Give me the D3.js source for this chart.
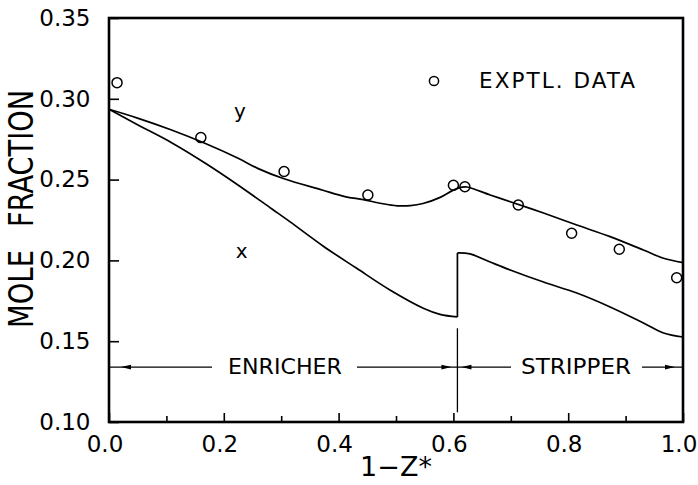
<!DOCTYPE html>
<html><head><meta charset="utf-8">
<script src="https://cdn.jsdelivr.net/npm/d3@7"></script>
<style>
html,body{margin:0;padding:0;background:#fff;}
svg{display:block;font-family:"DejaVu Sans",sans-serif;}
</style></head>
<body><svg id="c" width="698" height="485"></svg>
<script>
// ---- data ----
const xTicksMajor = [0.0, 0.2, 0.4, 0.6, 0.8, 1.0];
const xTicksMinor = [0.1, 0.3, 0.5, 0.7, 0.9];
const yTicks = [0.10, 0.15, 0.20, 0.25, 0.30, 0.35];

// vapour composition y (calculated)
const yCurveX = [0.0, 0.051, 0.109, 0.167, 0.225, 0.26, 0.305, 0.371, 0.411, 0.443, 0.475, 0.502, 0.525, 0.547, 0.577, 0.600, 0.615, 0.624, 0.664, 0.699, 0.757, 0.815, 0.873, 0.931, 0.966, 1.0];
const yCurveY = [0.2935, 0.2879, 0.2807, 0.2725, 0.2632, 0.2568, 0.2505, 0.2436, 0.2395, 0.2376, 0.2352, 0.2338, 0.2339, 0.2352, 0.2390, 0.2435, 0.2453, 0.2454, 0.2405, 0.2363, 0.2293, 0.2219, 0.2147, 0.2064, 0.2013, 0.1986];

// liquid composition x (calculated), enricher section
const xEnrX = [0.0, 0.0505, 0.1098, 0.1672, 0.2247, 0.284, 0.315, 0.3734, 0.4315, 0.4895, 0.5476, 0.5767, 0.607];
const xEnrY = [0.2935, 0.2838, 0.2727, 0.2603, 0.2467, 0.2318, 0.2240, 0.2088, 0.1951, 0.1817, 0.1704, 0.1666, 0.1650];
// liquid composition x, stripper section
const xStrX = [0.607, 0.629, 0.664, 0.699, 0.757, 0.815, 0.873, 0.931, 0.966, 1.0];
const xStrY = [0.2046, 0.2040, 0.1990, 0.1941, 0.1866, 0.1798, 0.1712, 0.1613, 0.1551, 0.1526];

// experimental data
const expX = [0.014, 0.160, 0.305, 0.451, 0.600, 0.620, 0.713, 0.806, 0.889, 0.989];
const expY = [0.310, 0.276, 0.255, 0.2405, 0.2465, 0.2456, 0.2343, 0.2168, 0.2069, 0.1893];

const feedX = 0.607;        // enricher / stripper boundary
const sectionY = 0.134;     // level of section arrows
const sections = ["ENRICHER", "STRIPPER"];

// ---- drawing ----
const svg = d3.select("#c");
const L = 109, R = 683, T = 18, B = 422;
const x = d3.scaleLinear().domain([0, 1]).range([L, R]);
const y = d3.scaleLinear().domain([0.10, 0.35]).range([B, T]);

// minor x ticks
svg.append("g").attr("transform", `translate(0,${B})`)
  .call(d3.axisBottom(x).tickValues(xTicksMinor).tickSizeInner(-6).tickSizeOuter(0).tickFormat(""))
  .call(g => g.select(".domain").remove())
  .call(g => g.selectAll("line").attr("stroke", "#000").attr("stroke-width", 1.6));

// major x ticks with labels
svg.append("g").attr("transform", `translate(0,${B})`)
  .call(d3.axisBottom(x).tickValues(xTicksMajor).tickSizeInner(-9).tickSizeOuter(0).tickPadding(13.7).tickFormat(d3.format(".1f")))
  .call(g => g.select(".domain").remove())
  .call(g => g.selectAll("line").attr("stroke", "#000").attr("stroke-width", 1.6))
  .call(g => g.selectAll("text").attr("font-size", 23).attr("font-family", "DejaVu Sans").attr("fill", "#000").attr("dx", -4.5));

// y ticks with labels
svg.append("g").attr("transform", `translate(${L},0)`)
  .call(d3.axisLeft(y).tickValues(yTicks).tickSizeInner(-10).tickSizeOuter(0).tickPadding(18.5).tickFormat(d3.format(".2f")))
  .call(g => g.select(".domain").remove())
  .call(g => g.selectAll("line").attr("stroke", "#000").attr("stroke-width", 1.6))
  .call(g => g.selectAll("text").attr("font-size", 23).attr("font-family", "DejaVu Sans").attr("fill", "#000"));

// frame
svg.append("rect").attr("x", L).attr("y", T).attr("width", R - L).attr("height", B - T)
  .attr("fill", "none").attr("stroke", "#000").attr("stroke-width", 2.6);

// axis titles
svg.append("text").attr("x", (L + R) / 2).attr("y", 476).attr("text-anchor", "middle")
  .attr("font-size", 27).text("1\u2212Z*");
svg.append("text").attr("transform", "translate(33,289) rotate(-90)").attr("text-anchor", "middle")
  .attr("font-size", 33).attr("textLength", 78).attr("lengthAdjust", "spacingAndGlyphs").text("MOLE");
svg.append("text").attr("transform", "translate(33,158.5) rotate(-90)").attr("text-anchor", "middle")
  .attr("font-size", 33).attr("textLength", 137).attr("lengthAdjust", "spacingAndGlyphs").text("FRACTION");

// curves
const line = d3.line().x(d => x(d[0])).y(d => y(d[1])).curve(d3.curveCatmullRom.alpha(0.5));
const zip = (a, b) => a.map((v, i) => [v, b[i]]);
const curveStyle = p => p.attr("fill", "none").attr("stroke", "#000").attr("stroke-width", 1.7).attr("stroke-linejoin", "round");

svg.append("path").attr("d", line(zip(yCurveX, yCurveY))).call(curveStyle);
svg.append("path").attr("d", line(zip(xEnrX, xEnrY))).call(curveStyle);
svg.append("path").attr("d", line(zip(xStrX, xStrY))).call(curveStyle);
// vertical jump of x at the feed point
svg.append("line").attr("x1", x(feedX)).attr("x2", x(feedX))
  .attr("y1", y(xEnrY[xEnrY.length - 1])).attr("y2", y(xStrY[0]))
  .attr("stroke", "#000").attr("stroke-width", 1.7);

// experimental points
svg.append("g").selectAll("circle").data(zip(expX, expY)).join("circle")
  .attr("cx", d => x(d[0])).attr("cy", d => y(d[1])).attr("r", 5)
  .attr("fill", "none").attr("stroke", "#000").attr("stroke-width", 1.5);

// curve labels
svg.append("text").attr("x", x(0.228)).attr("y", 118).attr("text-anchor", "middle").attr("font-size", 20).text("y");
svg.append("text").attr("x", x(0.231)).attr("y", 258).attr("text-anchor", "middle").attr("font-size", 20).text("x");

// legend
svg.append("circle").attr("cx", 434).attr("cy", 81).attr("r", 4.6)
  .attr("fill", "none").attr("stroke", "#000").attr("stroke-width", 1.5);
svg.append("text").attr("x", 479).attr("y", 87.5).attr("font-size", 21.5)
  .attr("textLength", 156).attr("lengthAdjust", "spacing").text("EXPTL.  DATA");

// section annotation
const sy = y(sectionY);
svg.append("line").attr("x1", x(feedX)).attr("x2", x(feedX)).attr("y1", y(0.158)).attr("y2", y(0.106))
  .attr("stroke", "#000").attr("stroke-width", 1.3);
const hseg = (a, b) => svg.append("line").attr("x1", a).attr("x2", b).attr("y1", sy).attr("y2", sy)
  .attr("stroke", "#000").attr("stroke-width", 1.3);
const arrow = (tip, dir) => svg.append("path")
  .attr("d", `M${tip},${sy} L${tip - dir * 10},${sy - 2.4} L${tip - dir * 10},${sy + 2.4} Z`).attr("fill", "#000");

hseg(L, 212); arrow(L + 12, -1);
hseg(357, x(feedX)); arrow(x(feedX) - 6, 1);
hseg(x(feedX), 511); arrow(x(feedX) + 4, -1);
hseg(642, R); arrow(R - 8, 1);

svg.append("text").attr("x", 228).attr("y", 373.5).attr("font-size", 21)
  .attr("textLength", 114).attr("lengthAdjust", "spacingAndGlyphs").text(sections[0]);
svg.append("text").attr("x", 521).attr("y", 374).attr("font-size", 21)
  .attr("textLength", 110).attr("lengthAdjust", "spacingAndGlyphs").text(sections[1]);
</script></body></html>
